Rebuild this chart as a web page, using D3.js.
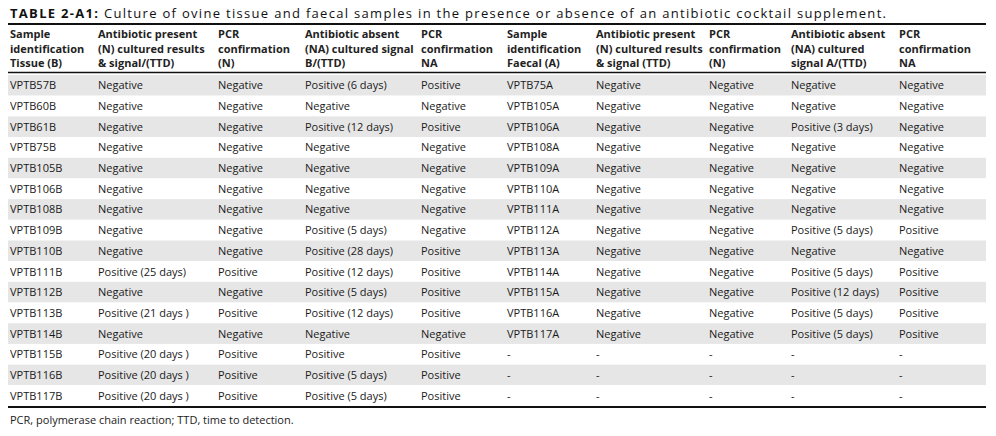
<!DOCTYPE html>
<html><head><meta charset="utf-8">
<script src="https://cdn.jsdelivr.net/npm/d3@7"></script>
<style>
body{margin:0;background:#fff;}
svg{font-family:"Open Sans","Noto Sans",sans-serif;}
</style></head>
<body><svg id="viz" width="996" height="436"></svg>
<script>
const headers = [
  ["Sample", "identification", "Tissue (B)"],
  ["Antibiotic present", "(N) cultured results", "& signal/(TTD)"],
  ["PCR", "confirmation", "(N)"],
  ["Antibiotic absent", "(NA) cultured signal", "B/(TTD)"],
  ["PCR", "confirmation", "NA"],
  ["Sample", "identification", "Faecal (A)"],
  ["Antibiotic present", "(N) cultured results", "& signal (TTD)"],
  ["PCR", "confirmation", "(N)"],
  ["Antibiotic absent", "(NA) cultured", "signal A/(TTD)"],
  ["PCR", "confirmation", "NA"]
];
const colX = [10, 98, 218, 305, 421, 507, 596, 709, 791, 899];
const tissueRows = [
  ["VPTB57B", "Negative", "Negative", "Positive (6 days)", "Positive"],
  ["VPTB60B", "Negative", "Negative", "Negative", "Negative"],
  ["VPTB61B", "Negative", "Negative", "Positive (12 days)", "Positive"],
  ["VPTB75B", "Negative", "Negative", "Negative", "Negative"],
  ["VPTB105B", "Negative", "Negative", "Negative", "Negative"],
  ["VPTB106B", "Negative", "Negative", "Negative", "Negative"],
  ["VPTB108B", "Negative", "Negative", "Negative", "Negative"],
  ["VPTB109B", "Negative", "Negative", "Positive (5 days)", "Negative"],
  ["VPTB110B", "Negative", "Negative", "Positive (28 days)", "Positive"],
  ["VPTB111B", "Positive (25 days)", "Positive", "Positive (12 days)", "Positive"],
  ["VPTB112B", "Negative", "Negative", "Positive (5 days)", "Positive"],
  ["VPTB113B", "Positive (21 days )", "Positive", "Positive (12 days)", "Positive"],
  ["VPTB114B", "Negative", "Negative", "Negative", "Negative"],
  ["VPTB115B", "Positive (20 days )", "Positive", "Positive", "Positive"],
  ["VPTB116B", "Positive (20 days )", "Positive", "Positive (5 days)", "Positive"],
  ["VPTB117B", "Positive (20 days )", "Positive", "Positive (5 days)", "Positive"]
];
const faecalRows = [
  ["VPTB75A", "Negative", "Negative", "Negative", "Negative"],
  ["VPTB105A", "Negative", "Negative", "Negative", "Negative"],
  ["VPTB106A", "Negative", "Negative", "Positive (3 days)", "Negative"],
  ["VPTB108A", "Negative", "Negative", "Negative", "Negative"],
  ["VPTB109A", "Negative", "Negative", "Negative", "Negative"],
  ["VPTB110A", "Negative", "Negative", "Negative", "Negative"],
  ["VPTB111A", "Negative", "Negative", "Negative", "Negative"],
  ["VPTB112A", "Negative", "Negative", "Positive (5 days)", "Positive"],
  ["VPTB113A", "Negative", "Negative", "Negative", "Negative"],
  ["VPTB114A", "Negative", "Negative", "Positive (5 days)", "Positive"],
  ["VPTB115A", "Negative", "Negative", "Positive (12 days)", "Positive"],
  ["VPTB116A", "Negative", "Negative", "Positive (5 days)", "Positive"],
  ["VPTB117A", "Negative", "Negative", "Positive (5 days)", "Positive"],
  ["-", "-", "-", "-", "-"],
  ["-", "-", "-", "-", "-"],
  ["-", "-", "-", "-", "-"]
];
const rows = tissueRows.map((r, i) => r.concat(faecalRows[i]));

const svg = d3.select("#viz");
const left = 8, right = 986;
const y = d3.scaleBand().domain(d3.range(rows.length)).range([75, 406]);

const title = svg.append("text").attr("x", 10).attr("y", 18).attr("font-size", 13).attr("fill", "#111")
  .attr("textLength", 876).attr("lengthAdjust", "spacing");
title.append("tspan").attr("font-weight", "bold").text("TABLE 2-A1:");
title.append("tspan").text(" Culture of ovine tissue and faecal samples in the presence or absence of an antibiotic cocktail supplement.");

svg.append("line").attr("x1", left).attr("x2", right).attr("y1", 24).attr("y2", 24).attr("stroke", "#111").attr("stroke-width", 2);

const hg = svg.append("g").attr("font-size", 11).attr("font-weight", "bold").attr("fill", "#222");
headers.forEach((h, c) => {
  h.forEach((line, k) => {
    hg.append("text").attr("x", colX[c]).attr("y", 38 + k * 14.5).text(line);
  });
});
svg.append("line").attr("x1", left).attr("x2", right).attr("y1", 72.5).attr("y2", 72.5).attr("stroke", "#111").attr("stroke-width", 1.5);

const rg = svg.append("g").selectAll("g").data(rows).join("g")
  .attr("transform", (d, i) => `translate(0,${y(i)})`);
rg.append("rect").attr("x", left).attr("width", right - left).attr("height", y.bandwidth())
  .attr("fill", (d, i) => i % 2 === 0 ? "#e6e6e6" : "#fff");
rg.selectAll("text").data(d => d).join("text")
  .attr("x", (d, c) => colX[c]).attr("y", y.bandwidth() / 2 + 4)
  .attr("font-size", 11).attr("fill", "#1a1a1a").text(d => d);

svg.append("line").attr("x1", left).attr("x2", right).attr("y1", 407).attr("y2", 407).attr("stroke", "#111").attr("stroke-width", 2);
svg.append("text").attr("x", 10).attr("y", 424).attr("font-size", 11).attr("fill", "#222")
  .text("PCR, polymerase chain reaction; TTD, time to detection.");
</script></body></html>
